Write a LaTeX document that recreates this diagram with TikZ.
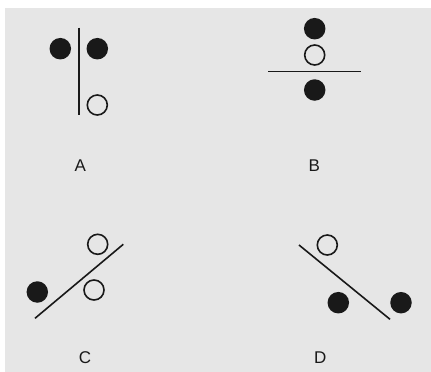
\documentclass[tikz,border=0pt]{standalone}
\usepackage{fontspec}
\setmainfont{Liberation Sans}
\definecolor{bg}{RGB}{230,230,230}
\definecolor{ink}{RGB}{25,25,25}
\begin{document}
\begin{tikzpicture}[x=1pt,y=-1pt,
  full/.style={circle,fill=ink,draw=none,minimum size=21.5pt,inner sep=0pt},
  hollow/.style={circle,draw=ink,line width=1.6pt,fill=none,minimum size=20pt,inner sep=0pt},
  barrier/.style={draw=ink,line width=1.6pt},
  lab/.style={font=\fontsize{17}{19}\selectfont,text=ink,inner sep=0pt}]
\useasboundingbox (0,0) rectangle (431,372);
\fill[white] (0,0) rectangle (431,372);
\fill[bg] (5,8) rectangle (431,372);
% A
\node[full] (a1) at (60.3,48.7) {};
\node[full] (a2) at (97.3,48.7) {};
\node[hollow] (a3) at (97.3,105) {};
\coordinate (aT) at (78.7,27.7);
\coordinate (aB) at (78.7,115);
\draw[barrier] (aT) -- (aB);
\node[lab] (la) at (80.3,166) {A};
% B
\node[full] (b1) at (314.7,28.7) {};
\node[hollow] (b2) at (314.7,55) {};
\node[full] (b3) at (314.7,90) {};
\coordinate (bL) at (268.3,71.3);
\coordinate (bR) at (361,71.3);
\draw[barrier] (bL) -- (bR);
\node[lab] (lb) at (314.3,166) {B};
% C
\node[hollow] (c1) at (97.7,244.3) {};
\node[hollow] (c2) at (94,290) {};
\node[full] (c3) at (37.3,292) {};
\coordinate (cL) at (35,318.3);
\coordinate (cR) at (123.3,244.3);
\draw[barrier] (cL) -- (cR);
\node[lab] (lc) at (85,358) {C};
% D
\node[hollow] (d1) at (327.3,245) {};
\node[full] (d2) at (338.3,302.7) {};
\node[full] (d3) at (401,302.7) {};
\coordinate (dT) at (299,245);
\coordinate (dB) at (390,319.3);
\draw[barrier] (dT) -- (dB);
\node[lab] (ld) at (320.3,358) {D};
\end{tikzpicture}
\end{document}
